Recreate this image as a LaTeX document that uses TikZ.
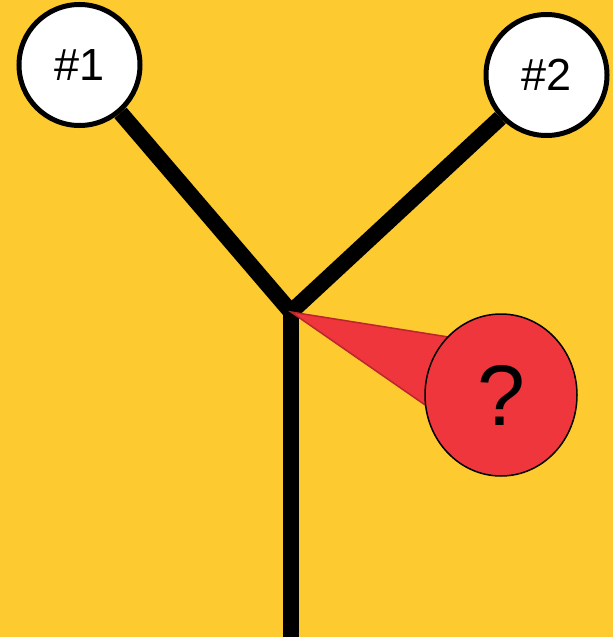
\documentclass[tikz,border=0pt]{standalone}
\usepackage{fontspec}
\setmainfont{Liberation Sans}
\usetikzlibrary{shapes.geometric}
\definecolor{bgyellow}{RGB}{253,202,48}
\definecolor{qred}{RGB}{238,54,60}
\definecolor{qedge}{RGB}{185,38,44}
\tikzset{
    marker/.style={circle, draw, line width=5pt, fill=white, minimum size=121pt, inner sep=0pt, font=\fontsize{45}{54}\selectfont}, % white numbered circle
    branch/.style={draw, line width=16pt, line join=miter},
    bubble/.style={ellipse, draw, line width=1.5pt, fill=qred, minimum width=152pt, minimum height=162pt, inner sep=0pt, font=\fontsize{86}{100}\selectfont}
}
\begin{document}
\begin{tikzpicture}[x=1pt,y=-1pt]
	\fill[bgyellow] (0,0) rectangle (613,637);
	\useasboundingbox (0,0) rectangle (613,637);

	\node (c1) [marker] at (79.5,65) {\#1};
	\node (c2) [marker] at (546.5,75) {\#2};
	\coordinate (j) at (291,312);
	\coordinate (root) at (291,637);

	\draw[branch] (c1) -- (j) -- (c2);
	\draw[branch] (j) -- (root);

	\coordinate (qc) at (501,395);
	\filldraw[fill=qred, draw=qedge, line width=1.5pt] (j) -- (480,342) -- (480,443) -- cycle;
	\node (q) [bubble] at (qc) {?};
\end{tikzpicture}
\end{document}
